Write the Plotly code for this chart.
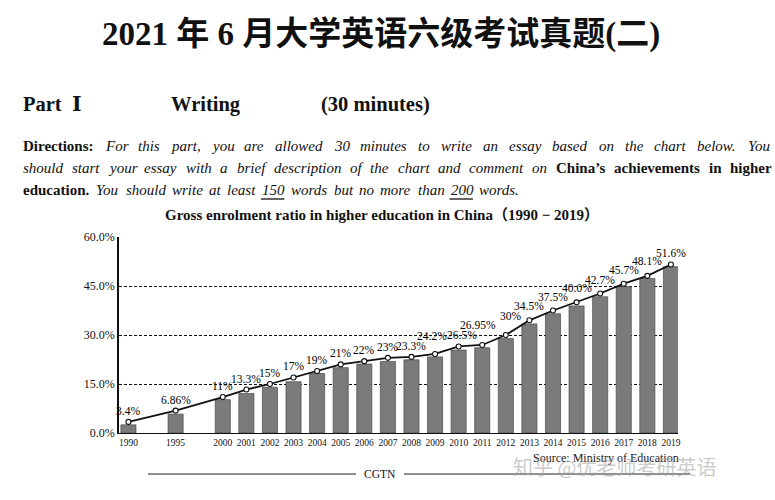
import plotly.graph_objects as go

# ---------------- data ----------------
years = ["1990", "1995", "2000", "2001", "2002", "2003", "2004", "2005", "2006",
         "2007", "2008", "2009", "2010", "2011", "2012", "2013", "2014", "2015",
         "2016", "2017", "2018", "2019"]
line_values = [3.4, 6.86, 11, 13.3, 15, 17, 19, 21, 22, 23, 23.3, 24.2, 26.5,
               26.95, 30, 34.5, 37.5, 40.0, 42.7, 45.7, 48.1, 51.6]
line_labels = ["3.4%", "6.86%", "11%", "13.3%", "15%", "17%", "19%", "21%", "22%",
               "23%", "23.3%", "24.2%", "26.5%", "26.95%", "30%", "34.5%", "37.5%",
               "40.0%", "42.7%", "45.7%", "48.1%", "51.6%"]
bar_values = [2.5, 5.8, 10.2, 12.1, 14.0, 15.7, 18.2, 20.0, 21.1, 21.9, 22.4, 23.3,
              25.4, 26.1, 28.9, 33.4, 36.5, 38.9, 41.7, 44.8, 47.3, 50.9]
y_ticks = [0, 15, 30, 45, 60]
y_tick_labels = ["0.0%", "15.0%", "30.0%", "45.0%", "60.0%"]

page_title = "2021 年 6 月大学英语六级考试真题(二)"
chart_title = "Gross enrolment ratio in higher education in China（1990 − 2019）"
source_text = "Source: Ministry of Education"

# category order with spacer slots for the 5-year gaps
cat_order = ["1990", " ", "1995", "  "] + years[2:]

# small label nudges (pixels) so neighbouring labels do not collide
label_nudge = {"24.2%": (-3, 7), "26.5%": (3, 0), "26.95%": (-4, 9), "30%": (5, 8),
               "34.5%": (0, 3), "37.5%": (0, 3), "40.0%": (0, 3), "42.7%": (0, 3),
               "45.7%": (0, 3), "48.1%": (0, 4)}

# ---------------- layout helpers ----------------
W, H = 775, 500
L, R, T, B = 119, 97, 237, 67
PW, PH = W - L - R, H - T - B


def px(x):
    return (x - L) / PW


def py(y):
    return (H - B - y) / PH


SERIF = "Liberation Serif, DejaVu Serif, Noto Sans CJK SC, serif"

# Times-compatible glyph widths (1/1000 em) used to justify the paragraph
_lower_r = dict(zip("abcdefghijklmnopqrstuvwxyz",
                    [444, 500, 444, 500, 444, 333, 500, 500, 278, 278, 500, 278, 778,
                     500, 500, 500, 500, 333, 389, 278, 500, 500, 722, 500, 500, 444]))
_lower_i = dict(zip("abcdefghijklmnopqrstuvwxyz",
                    [500, 500, 444, 500, 444, 278, 500, 500, 278, 278, 444, 278, 722,
                     500, 500, 500, 500, 389, 389, 278, 500, 444, 667, 444, 444, 389]))
_lower_b = dict(zip("abcdefghijklmnopqrstuvwxyz",
                    [500, 556, 444, 556, 444, 333, 500, 556, 278, 333, 556, 278, 833,
                     556, 500, 556, 556, 444, 389, 333, 556, 500, 722, 500, 500, 444]))
_common = {" ": 250, ".": 250, ",": 250, ":": 300, "’": 333, "0": 500, "1": 500,
           "2": 500, "3": 500, "4": 500, "5": 500, "6": 500, "7": 500, "8": 500, "9": 500}
_upper = {"Y": 600, "D": 722, "C": 700, "F": 611}


def text_w(s, style, size):
    tab = {"i": _lower_i, "b": _lower_b}.get(style, _lower_r)
    tot = 0
    for ch in s:
        tot += tab.get(ch, _common.get(ch, _upper.get(ch, 600)))
    return tot * size / 1000.0


fig = go.Figure()

fig.add_trace(go.Bar(
    x=years, y=bar_values, width=0.64,
    marker=dict(color="#7b7b7b", line=dict(color="#4a4a4a", width=0.7)),
    hoverinfo="skip", showlegend=False,
))

fig.add_trace(go.Scatter(
    x=years, y=line_values, mode="lines+markers",
    line=dict(color="#111", width=1.8),
    marker=dict(symbol="circle", size=5, color="white",
                line=dict(color="#111", width=1.1)),
    showlegend=False, cliponaxis=False, hoverinfo="skip",
))

annotations = []
shapes = []

# value labels, placed on the data through the category axis
for yr, val, lab in zip(years, line_values, line_labels):
    dx, dy = label_nudge.get(lab, (0, 0))
    annotations.append(dict(text=lab, x=cat_order.index(yr), y=val, xref="x", yref="y",
                            xanchor="center", yanchor="bottom", showarrow=False,
                            xshift=dx, yshift=4 + dy, borderpad=0,
                            font=dict(family=SERIF, size=11.5, color="#000")))


def add_text(txt, x, y, size, xanchor="center", family=SERIF, color="#111"):
    annotations.append(dict(text=txt, x=px(x), y=py(y), xref="paper", yref="paper",
                            xanchor=xanchor, yanchor="middle", showarrow=False,
                            borderpad=0, font=dict(family=family, size=size, color=color)))


# page title
add_text("<b>" + page_title + "</b>", 381, 35, 33)

# Part line
for txt, x0 in [("Part  Ⅰ", 22), ("Writing", 170), ("(30 minutes)", 320)]:
    add_text("<b>" + txt + "</b>", x0, 104, 20.5, xanchor="left")

# directions paragraph, justified word by word
FS = 15
para = [
    (146, [("Directions:", "b"), ("For this part, you are allowed 30 minutes to write an essay based on the chart below. You", "i")], True),
    (168, [("should start your essay with a brief description of the chart and comment on", "i"), ("China’s achievements in higher", "b")], True),
    (190, [("education.", "b"), ("You should write at least 150 words but no more than 200 words.", "i")], False),
]
left_x, right_x = 22, 771
for yy, segs, justify in para:
    words = []
    for s, st in segs:
        for w in s.split(" "):
            words.append((w, st))
    widths = [text_w(w, st, FS) for w, st in words]
    if justify:
        gap = (right_x - left_x - sum(widths)) / (len(words) - 1)
    else:
        gap = FS * 0.42
    x = left_x
    for (w, st), ww in zip(words, widths):
        tag = "b" if st == "b" else "i"
        add_text("<%s>%s</%s>" % (tag, w, tag), x, yy, FS, xanchor="left")
        if w in ("150", "200"):
            shapes.append(dict(type="line", xref="paper", yref="paper",
                               x0=px(x), x1=px(x + ww + 1), y0=py(199), y1=py(199),
                               line=dict(color="#111", width=1.3)))
        x += ww + gap

# chart title
add_text("<b>" + chart_title + "</b>", 382, 215, 15)

# source
add_text(source_text, 680, 458, 12, xanchor="right", color="#222")
# CGTN
add_text("CGTN", 380, 474, 11.5)
for a, b in [(148, 356), (404, 690)]:
    shapes.append(dict(type="line", xref="paper", yref="paper",
                       x0=px(a), x1=px(b), y0=py(474), y1=py(474),
                       line=dict(color="#222", width=1)))
# watermark
add_text("知乎 @优老师考研英语", 512, 466, 20, xanchor="left",
         family="Noto Sans CJK SC, sans-serif", color="rgba(160,160,160,0.55)")

fig.update_layout(
    width=W, height=H,
    margin=dict(l=L, r=R, t=T, b=B, pad=0),
    paper_bgcolor="white", plot_bgcolor="white",
    annotations=annotations, shapes=shapes,
    xaxis=dict(type="category", categoryorder="array", categoryarray=cat_order,
               range=[-0.4, 23.3], showgrid=False, showline=True,
               linecolor="#111", linewidth=1.3, ticks="",
               tickfont=dict(family=SERIF, size=9.5, color="#111"),
               tickangle=0, fixedrange=True),
    yaxis=dict(range=[0, 60], tickvals=y_ticks, ticktext=y_tick_labels,
               showgrid=True, gridcolor="#111", gridwidth=1, griddash="3px,2px",
               showline=True, linecolor="#111", linewidth=1.5, zeroline=False,
               ticks="", tickfont=dict(family=SERIF, size=12, color="#111"),
               fixedrange=True),
)

fig.write_html("out.html", config={"displayModeBar": False},
               post_script="document.body.style.margin='0';")
